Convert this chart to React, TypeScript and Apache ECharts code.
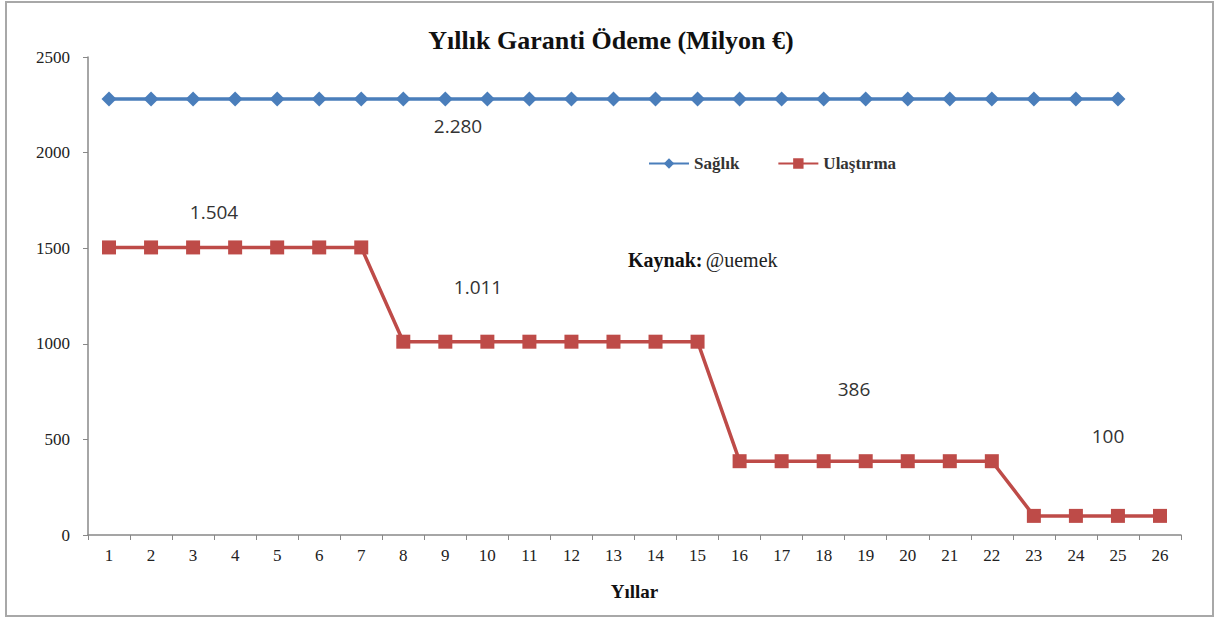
import React, { useEffect, useRef } from "react";
import * as echarts from "echarts";

const years: string[] = Array.from({ length: 26 }, (_, i) => String(i + 1));
const saglik: (number | null)[] = [
  2280, 2280, 2280, 2280, 2280, 2280, 2280, 2280, 2280, 2280, 2280, 2280, 2280,
  2280, 2280, 2280, 2280, 2280, 2280, 2280, 2280, 2280, 2280, 2280, 2280, null,
];
const ulastirma: number[] = [
  1504, 1504, 1504, 1504, 1504, 1504, 1504,
  1011, 1011, 1011, 1011, 1011, 1011, 1011, 1011,
  386, 386, 386, 386, 386, 386, 386,
  100, 100, 100, 100,
];
const seriesNames = ["Sağlık", "Ulaştırma"];
const yTicks = [0, 500, 1000, 1500, 2000, 2500];
// annotation values shown as text boxes
const annotValues = [2280, 1504, 1011, 386, 100];
const annotPos: [number, number][] = [
  [458, 126],
  [214, 212],
  [478, 287],
  [854, 389],
  [1108, 436],
];

const fmt = (v: number) => v.toLocaleString("tr-TR");

export default function App() {
  const ref = useRef<HTMLDivElement>(null);
  useEffect(() => {
    document.body.style.margin = "0";
    const chart = echarts.init(ref.current!, null, { renderer: "svg" });
    const serif = "'Liberation Serif', 'Times New Roman', serif";
    chart.setOption({
      animation: false,
      backgroundColor: "#ffffff",
      title: {
        text: "Yıllık Garanti Ödeme (Milyon €)",
        left: 606,
        textAlign: "center",
        top: 22,
        textStyle: {
          fontFamily: serif,
          fontWeight: "bold",
          fontSize: 26,
          color: "#111",
        },
      },
      legend: {
        left: 643,
        top: 150,
        itemGap: 38,
        itemWidth: 40,
        itemHeight: 13,
        textStyle: { fontFamily: serif, fontSize: 17, fontWeight: "bold", color: "#333" },
        data: seriesNames,
      },
      grid: { left: 88, right: 36, top: 57, bottom: 84 },
      xAxis: {
        type: "category",
        data: years,
        boundaryGap: true,
        name: "Yıllar",
        nameLocation: "middle",
        nameGap: 47,
        nameTextStyle: { fontFamily: serif, fontWeight: "bold", fontSize: 19, color: "#111" },
        axisLine: { lineStyle: { color: "#888", width: 1.5 } },
        axisTick: { show: true, alignWithLabel: false, length: 5, lineStyle: { color: "#888" } },
        axisLabel: { fontFamily: serif, fontSize: 17, color: "#222", margin: 12, interval: 0 },
        splitLine: { show: false },
      },
      yAxis: {
        type: "value",
        min: yTicks[0],
        max: yTicks[yTicks.length - 1],
        interval: 500,
        axisLine: { show: true, lineStyle: { color: "#888", width: 1.5 } },
        axisTick: { show: true, length: 5, lineStyle: { color: "#888" } },
        axisLabel: {
          fontFamily: serif,
          fontSize: 17,
          color: "#222",
          margin: 18,
          formatter: (v: number) => String(v),
        },
        splitLine: { show: false },
      },
      series: [
        {
          name: seriesNames[0],
          type: "line",
          data: saglik,
          symbol: "diamond",
          symbolSize: [15, 15],
          itemStyle: { color: "#4A7EBB" },
          lineStyle: { color: "#4A7EBB", width: 3.5 },
        },
        {
          name: seriesNames[1],
          type: "line",
          data: ulastirma,
          symbol: "rect",
          symbolSize: 14,
          itemStyle: { color: "#BE4B48" },
          lineStyle: { color: "#BE4B48", width: 3.5 },
        },
      ],
      graphic: [
        {
          type: "rect",
          shape: { x: 6, y: 2, width: 1207, height: 614 },
          style: { fill: "none", stroke: "#a8a8a8", lineWidth: 2 },
          silent: true,
        },
        ...annotValues.map((v, i) => ({
          type: "text",
          x: annotPos[i][0],
          y: annotPos[i][1],
          style: {
            text: fmt(v),
            fontFamily: "'Open Sans', 'Noto Sans', sans-serif",
            fontSize: 19,
            fill: "#333",
            textAlign: "center",
            textVerticalAlign: "middle",
          },
        })),
        {
          type: "text",
          x: 628,
          y: 260,
          style: {
            rich: {
              b: { fontFamily: serif, fontWeight: "bold", fontSize: 20, fill: "#111" },
              n: { fontFamily: serif, fontSize: 20, fill: "#222" },
            },
            text: "{b|Kaynak:} {n|@uemek}",
            textVerticalAlign: "middle",
          },
        },
      ],
    });
    return () => chart.dispose();
  }, []);
  return <div ref={ref} style={{ width: 1217, height: 619 }} />;
}
